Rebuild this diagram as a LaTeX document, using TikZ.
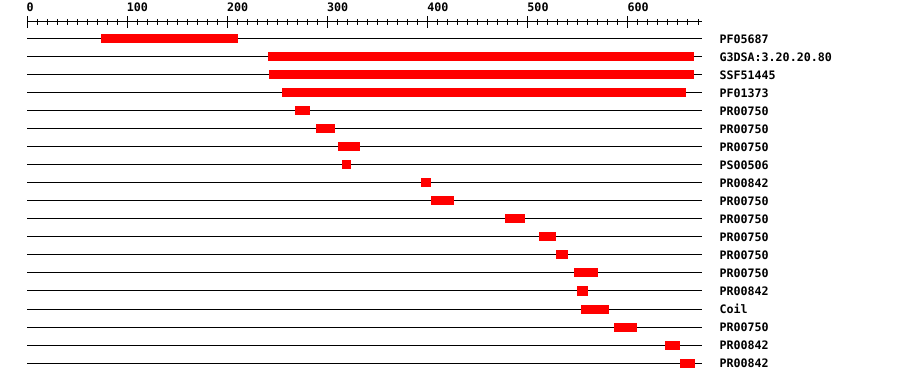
\documentclass[tikz,border=0pt]{standalone}
\usepackage{fontspec}
\newfontfamily\pixfont{DejaVu Sans Mono}
\begin{document}
\begin{tikzpicture}[x=1pt,y=-1pt,
  track/.style={line width=1pt, draw=black},
  hit/.style={fill=red, draw=none},
  lab/.style={anchor=base west, inner sep=0pt, text=black,
    font=\pixfont\bfseries\fontsize{11.67}{12}\selectfont},
  rulerline/.style={line width=1pt, draw=black}]
\useasboundingbox (0,0) rectangle (900,382);
% ruler
\coordinate (rs) at (27,22);
\coordinate (re) at (702,22);
\draw[rulerline] (rs) -- (re);
\foreach \v in {0,10,...,670} {
  \draw[rulerline] ({27+\v*1.0015},19) -- ++(0,6);
}
\foreach \v in {0,100,...,600} {
  \draw[rulerline] ({27+\v*1.0015},16.5) -- ++(0,12);
  \node[lab] (r\v) at ({26.5+\v*1.0015},11.7) {\v};
}
% tracks
\foreach \i/\lbl/\a/\b in {
  1/PF05687/101/238,
  2/G3DSA:3.20.20.80/268/694,
  3/SSF51445/269/694,
  4/PF01373/282/686,
  5/PR00750/295/310,
  6/PR00750/316/335,
  7/PR00750/338/360,
  8/PS00506/342/351,
  9/PR00842/421/431,
  10/PR00750/431/454,
  11/PR00750/505/525,
  12/PR00750/539/556,
  13/PR00750/556/568,
  14/PR00750/574/598,
  15/PR00842/577/588,
  16/Coil/581/609,
  17/PR00750/614/637,
  18/PR00842/665/680,
  19/PR00842/680/695} {
  \pgfmathsetmacro\yy{39+18*(\i-1)}
  \coordinate (ts\i) at (27,\yy);
  \coordinate (te\i) at (702,\yy);
  \draw[track] (ts\i) -- (te\i);
  \fill[hit] (\a,\yy-4.5) rectangle (\b,\yy+4.5);
  \node[lab] (l\i) at (719.3,\yy+4.3) {\lbl};
}
\end{tikzpicture}
\end{document}
